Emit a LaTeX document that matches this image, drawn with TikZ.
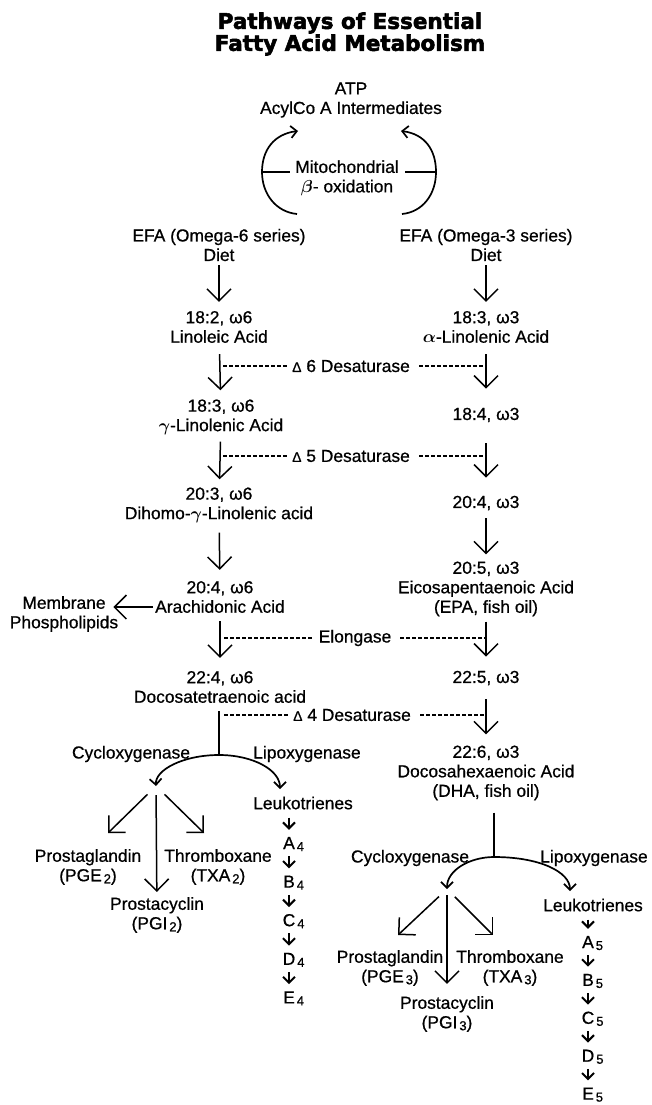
\documentclass[tikz,border=0pt]{standalone}
\usepackage{fontspec}
\setmainfont{Liberation Sans}[FakeBold=0.7]
\newfontfamily\ttlfont{DejaVu Sans}[BoldFeatures={FakeBold=2.5}]
\usetikzlibrary{arrows.meta,positioning}

\newcommand{\lsub}[1]{\kern2pt\raisebox{-2pt}{\fontsize{13}{13}\selectfont #1}}
\newcommand{\dlt}{{\fontsize{14}{14}\selectfont Δ}}

\begin{document}
\begin{tikzpicture}[x=1pt, y=-1pt, font=\boldmath\fontsize{17.4}{19.5}\selectfont,
  lbl/.style={align=center, inner sep=2pt},
  ltr/.style={inner sep=1pt, text height=12pt, text depth=0pt},
  enz/.style={inner xsep=5pt, inner ysep=1pt},
  arr/.style={line width=1.5pt, -{Straight Barb[length=12pt,width=24pt]},
    shorten <=6pt, shorten >=7pt},
  sarr/.style={line width=2pt, -{Straight Barb[length=6pt,width=12pt]},
    shorten <=6pt, shorten >=6pt},
  carr/.style={line width=1.7pt,
    {Straight Barb[length=6pt,width=12pt]}-{Straight Barb[length=6pt,width=12pt]}},
  oarr/.style={line width=1.7pt, -{Straight Barb[length=6pt,width=12pt]}},
  ln/.style={line width=1.6pt},
  dsh/.style={line width=1.4pt, dash pattern=on 4pt off 2pt, shorten <=4pt},
]
\useasboundingbox (0,0) rectangle (651,1105);

%% Title
\node[font=\ttlfont\bfseries\fontsize{21.5}{22}\selectfont, align=center]
  (ttl) at (350,34) {Pathways of Essential\\Fatty Acid Metabolism};

%% Beta oxidation
\node[lbl] (atp) at (351,100) {ATP\\AcylCo A Intermediates};
\node[lbl] (mito) at (347,178) {Mitochondrial\\$\beta$- oxidation};
\coordinate (olb) at (297,214);
\coordinate (olm) at (262,172);
\coordinate (olt) at (298,131);
\coordinate (orb) at (402,214);
\coordinate (orm) at (436,172);
\coordinate (ort) at (401,131);
\draw[oarr] (olb) .. controls (276,212) and (262,194) .. (olm)
  .. controls (262,150) and (274,134) .. (olt);
\draw[oarr] (orb) .. controls (423,212) and (436,194) .. (orm)
  .. controls (436,150) and (425,134) .. (ort);
\draw[ln, shorten >=3pt] (olm) -- (olm -| mito.west);
\draw[ln, shorten >=4pt] (orm) -- (orm -| mito.east);

%% Omega-6 series
\node[lbl] (efa6) at (219,245) {EFA (Omega-6 series)\\Diet};
\node[lbl] (la) at (219,327) {18:2, ω6\\Linoleic Acid};
\node[lbl] (gla) at (221,417) {18:3, ω6\\$\gamma$-Linolenic Acid};
\node[lbl] (dgla) at (219,505) {20:3, ω6\\Dihomo-$\gamma$-Linolenic acid};
\node[lbl] (aa) at (220,597) {20:4, ω6\\Arachidonic Acid};
\node[lbl] (mem) at (64,614) {Membrane\\Phospholipids};
\node[lbl] (dta) at (220,687) {22:4, ω6\\Docosatetraenoic acid};

%% Omega-3 series
\node[lbl] (efa3) at (486,245) {EFA (Omega-3 series)\\Diet};
\node[lbl] (ala) at (486,327) {18:3, ω3\\$\alpha$-Linolenic Acid};
\node[lbl] (sda) at (486,415) {18:4, ω3};
\node[lbl] (eta) at (486,503) {20:4, ω3};
\node[lbl] (epa) at (486,589) {20:5, ω3\\Eicosapentaenoic Acid\\(EPA, fish oil)};
\node[lbl] (dpa) at (486,678) {22:5, ω3};
\node[lbl] (dha) at (486,773) {22:6, ω3\\Docosahexaenoic Acid\\(DHA, fish oil)};

%% Chain arrows
\draw[arr, shorten <=2pt] (efa6) -- (la);
\draw[arr, shorten <=9pt] (la) -- (gla);
\draw[arr, shorten <=5pt, shorten >=6pt] (gla) -- (dgla);
\draw[arr, shorten <=8pt, shorten >=9pt] (dgla) -- (aa);
\draw[arr, shorten >=11pt] (aa) -- (dta);
\draw[arr, shorten <=2pt] (efa3) -- (ala);
\draw[arr, shorten <=9pt, shorten >=17pt] (ala) -- (sda);
\draw[arr, shorten <=19pt, shorten >=16pt] (sda) -- (eta);
\draw[arr, shorten >=5pt] (eta) -- (epa);
\draw[arr, shorten <=3pt, shorten >=12pt] (epa) -- (dpa);
\draw[arr, shorten <=12pt, shorten >=9pt] (dpa) -- (dha);
\coordinate (aw) at ([yshift=-10pt]aa.west);
\draw[arr, shorten <=0pt, shorten >=-7pt] (aw) -- (aw -| mem.east);

%% Enzymes
\node[enz] (d6) at (351,366) {\dlt\ 6 Desaturase};
\node[enz] (d5) at (351,456) {\dlt\ 5 Desaturase};
\node[enz] (elo) at (355,638) {Elongase};
\node[enz] (d4) at (352,715) {\dlt\ 4 Desaturase};
\draw[dsh] (d6 -| la) -- (d6.west);
\draw[dsh] (d6.east) -- (d6 -| ala);
\draw[dsh] (d5 -| dgla) -- (d5.west);
\draw[dsh] (d5.east) -- (d5 -| sda);
\draw[dsh] (elo -| aa) -- (elo.west);
\draw[dsh] (elo.east) -- (elo -| epa);
\draw[dsh] (d4 -| dta) -- (d4.west);
\draw[dsh] (d4.east) -- (d4 -| dpa);

%% Eicosanoids from omega-6
\node[lbl] (cx6) at (131,754) {Cycloxygenase};
\node[lbl] (lx6) at (307,754) {Lipoxygenase};
\node[lbl] (lk6) at (303,803) {Leukotrienes};
\node[lbl] (pg6) at (88,867) {Prostaglandin\\(PGE\lsub{2})};
\node[lbl] (tx6) at (218,867) {Thromboxane\\(TXA\lsub{2})};
\node[lbl] (pc6) at (157,915) {Prostacyclin\\(PGI\lsub{2})};
\coordinate (top6) at (219,755);
\coordinate (fk6) at (156,786);
\coordinate (lt6) at (280,789);
\coordinate (pg6t) at (108,833);
\coordinate (tx6t) at (204,833);
\draw[ln, shorten <=6pt] (dta.south -| top6) -- (top6);
\draw[carr] (fk6) .. controls (155,770) and (183,755) .. (top6)
  .. controls (253,755) and (280,770) .. (lt6);
\draw[arr, shorten <=12pt, shorten >=0pt] (fk6) -- (pg6t);
\draw[arr, shorten <=12pt, shorten >=0pt] (fk6) -- (tx6t);
\draw[arr, shorten <=9pt, shorten >=3pt] (fk6) -- (pc6);

\node[ltr] (A4) at (289,843) {A\rlap{\lsub{4}}};
\node[ltr, below=24.2pt of A4] (B4) {B\rlap{\lsub{4}}};
\node[ltr, below=24.2pt of B4] (C4) {C\rlap{\lsub{4}}};
\node[ltr, below=24.2pt of C4] (D4) {D\rlap{\lsub{4}}};
\node[ltr, below=24.2pt of D4] (E4) {E\rlap{\lsub{4}}};
\draw[sarr] (lk6.south -| A4) -- (A4);
\draw[sarr] (A4) -- (B4);
\draw[sarr] (B4) -- (C4);
\draw[sarr] (C4) -- (D4);
\draw[sarr] (D4) -- (E4);

%% Eicosanoids from omega-3
\node[lbl] (cx3) at (410,858) {Cycloxygenase};
\node[lbl] (lx3) at (594,858) {Lipoxygenase};
\node[lbl] (lk3) at (593,905) {Leukotrienes};
\node[lbl] (pg3) at (390,968) {Prostaglandin\\(PGE\lsub{3})};
\node[lbl] (tx3) at (510,968) {Thromboxane\\(TXA\lsub{3})};
\node[lbl] (pc3) at (447,1014) {Prostacyclin\\(PGI\lsub{3})};
\coordinate (top3) at (494,857);
\coordinate (fk3) at (447,889);
\coordinate (lt3) at (570,891);
\coordinate (pg3t) at (398,935);
\coordinate (tx3t) at (493,935);
\draw[ln, shorten <=10pt] (dha.south -| top3) -- (top3);
\draw[carr] (fk3) .. controls (447,870) and (470,857) .. (top3)
  .. controls (540,857) and (570,872) .. (lt3);
\draw[arr, shorten <=11pt, shorten >=0pt] (fk3) -- (pg3t);
\draw[arr, shorten <=11pt, shorten >=0pt] (fk3) -- (tx3t);
\draw[arr, shorten <=6pt, shorten >=10pt] (fk3) -- (pc3);

\node[ltr] (A5) at (588,942) {A\rlap{\lsub{5}}};
\node[ltr, below=23.5pt of A5] (B5) {B\rlap{\lsub{5}}};
\node[ltr, below=23.5pt of B5] (C5) {C\rlap{\lsub{5}}};
\node[ltr, below=23.5pt of C5] (D5) {D\rlap{\lsub{5}}};
\node[ltr, below=23.5pt of D5] (E5) {E\rlap{\lsub{5}}};
\draw[sarr] (lk3.south -| A5) -- (A5);
\draw[sarr] (A5) -- (B5);
\draw[sarr] (B5) -- (C5);
\draw[sarr] (C5) -- (D5);
\draw[sarr] (D5) -- (E5);

\end{tikzpicture}
\end{document}
